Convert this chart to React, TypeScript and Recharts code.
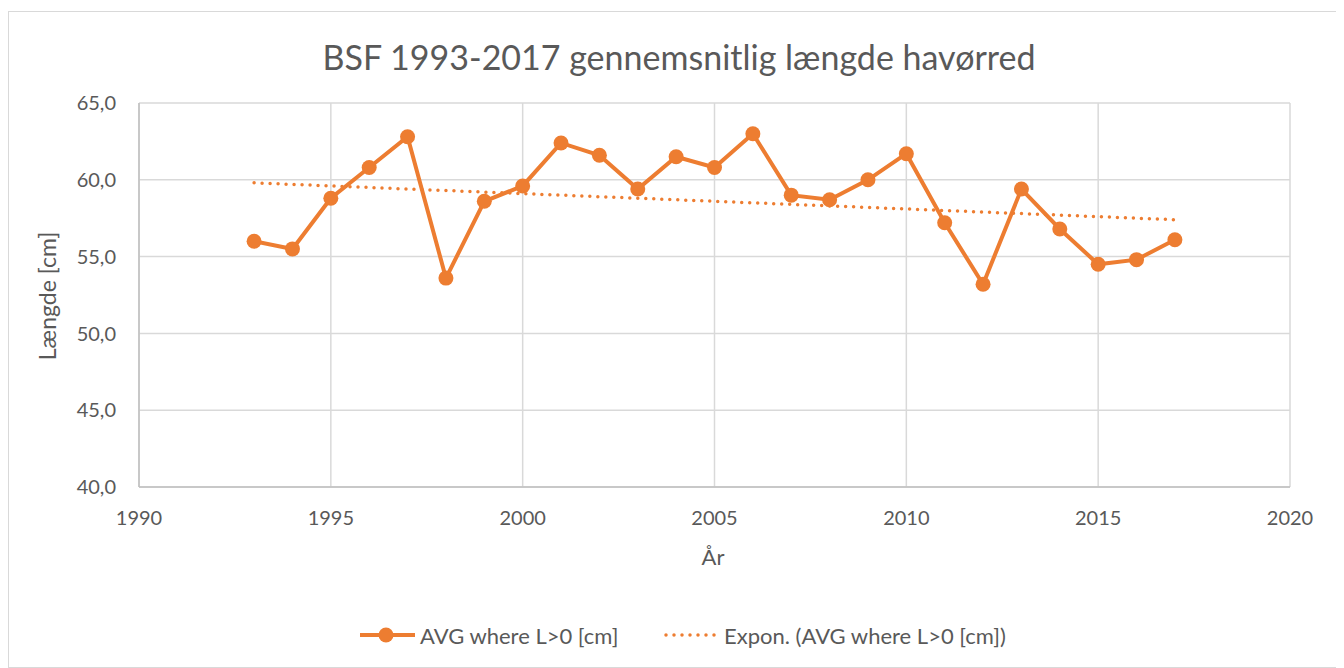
import React from 'react';
import { LineChart, Line, XAxis, YAxis, CartesianGrid } from 'recharts';

const years = [
  1993, 1994, 1995, 1996, 1997, 1998, 1999, 2000, 2001, 2002, 2003, 2004, 2005,
  2006, 2007, 2008, 2009, 2010, 2011, 2012, 2013, 2014, 2015, 2016, 2017,
];
const avgLength = [
  56.0, 55.5, 58.8, 60.8, 62.8, 53.6, 58.6, 59.6, 62.4, 61.6, 59.4, 61.5, 60.8,
  63.0, 59.0, 58.7, 60.0, 61.7, 57.2, 53.2, 59.4, 56.8, 54.5, 54.8, 56.1,
];
// Expon. trendline at its two ends
const trendYears = [1993, 2017];
const trendValues = [59.8, 57.4];

const xTicks = [1990, 1995, 2000, 2005, 2010, 2015, 2020];
const yTicks = [40, 45, 50, 55, 60, 65];

const title = 'BSF 1993-2017 gennemsnitlig længde havørred';
const xTitle = 'År';
const yTitle = 'Længde [cm]';
const seriesName = 'AVG where L>0 [cm]';
const trendName = 'Expon. (AVG where L>0 [cm])';

const ORANGE = '#ED7D31';
const TEXT = '#595959';
const FONT = 'Lato, "Open Sans", sans-serif';

const avgData = years.map((year, i) => ({ year, avg: avgLength[i] }));
const trendData = trendYears.map((year, i) => ({ year, trend: trendValues[i] }));

const fmt = (v: number) => v.toFixed(1).replace('.', ',');

export default function App() {
  return (
    <div
      style={{
        position: 'relative',
        width: 1340,
        height: 655,
        marginTop: 3,
        border: '1px solid #d9d9d9',
        background: '#fff',
        fontFamily: FONT,
      }}
    >
      <LineChart width={1340} height={655} margin={{ top: 91, right: 59, left: 0, bottom: 0 }}>
        <CartesianGrid stroke="#d9d9d9" strokeWidth={1.5} />
        <XAxis
          type="number"
          dataKey="year"
          domain={[1990, 2020]}
          ticks={xTicks}
          allowDataOverflow
          height={180}
          tickSize={0}
          tickMargin={24}
          tickLine={false}
          axisLine={{ stroke: '#bfbfbf', strokeWidth: 1.5 }}
          tick={{ fill: TEXT, fontSize: 20, fontFamily: FONT }}
        />
        <YAxis
          type="number"
          domain={[40, 65]}
          ticks={yTicks}
          width={130}
          tickSize={0}
          tickMargin={23}
          tickLine={false}
          tickFormatter={fmt}
          axisLine={{ stroke: '#bfbfbf', strokeWidth: 1.5 }}
          tick={{ fill: TEXT, fontSize: 20, fontFamily: FONT }}
        />
        <Line
          data={avgData}
          dataKey="avg"
          name={seriesName}
          stroke={ORANGE}
          strokeWidth={4}
          dot={{ r: 7.5, fill: ORANGE, stroke: ORANGE, strokeWidth: 0 }}
          activeDot={false}
          isAnimationActive={false}
        />
        <Line
          data={trendData}
          dataKey="trend"
          name={trendName}
          stroke={ORANGE}
          strokeWidth={3.5}
          strokeDasharray="0 8"
          strokeLinecap="round"
          dot={false}
          activeDot={false}
          isAnimationActive={false}
        />
      </LineChart>
      <svg
        width={1340}
        height={655}
        style={{ position: 'absolute', left: 0, top: 0, pointerEvents: 'none' }}
        fontFamily={FONT}
      >
        <text x={670} y={58} textAnchor="middle" fontSize={34} fill={TEXT}>
          {title}
        </text>
        <text x={704} y={553} textAnchor="middle" fontSize={22} fill={TEXT}>
          {xTitle}
        </text>
        <text
          x={38}
          y={284}
          textAnchor="middle"
          dominantBaseline="central"
          fontSize={23}
          fill={TEXT}
          transform="rotate(-90 38 284)"
        >
          {yTitle}
        </text>
        <g>
          <line x1={351} y1={623} x2={406} y2={623} stroke={ORANGE} strokeWidth={4} />
          <circle cx={377} cy={623} r={7.5} fill={ORANGE} />
          <text x={411} y={623} dominantBaseline="central" fontSize={22} fill={TEXT}>
            {seriesName}
          </text>
          <line
            x1={657}
            y1={623}
            x2={708}
            y2={623}
            stroke={ORANGE}
            strokeWidth={3.5}
            strokeDasharray="0 8"
            strokeLinecap="round"
          />
          <text x={715} y={623} dominantBaseline="central" fontSize={22} fill={TEXT}>
            {trendName}
          </text>
        </g>
      </svg>
    </div>
  );
}
